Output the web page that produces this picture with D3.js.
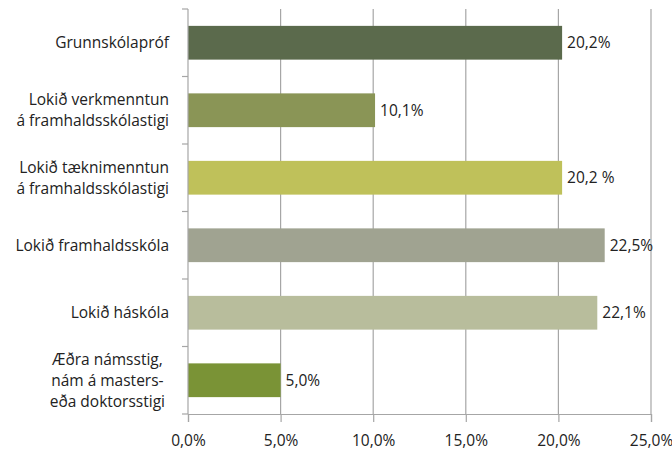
<!DOCTYPE html>
<html>
<head>
<meta charset="utf-8">
<script src="https://cdn.jsdelivr.net/npm/d3@7"></script>
<style>
  body { margin: 0; background: #fff; }
  text { font-family: "Open Sans", sans-serif; fill: #222; }
</style>
</head>
<body>
<svg id="chart" width="672" height="451"></svg>
<script>
// education levels, top to bottom
var categories = [
  ["Grunnskólapróf"],
  ["Lokið verkmenntun", "á framhaldsskólastigi"],
  ["Lokið tæknimenntun", "á framhaldsskólastigi"],
  ["Lokið framhaldsskóla"],
  ["Lokið háskóla"],
  ["Æðra námsstig,", "nám á masters-", "eða doktorsstigi"]
];
var values = [20.2, 10.1, 20.2, 22.5, 22.1, 5.0];
var valueLabels = ["20,2%", "10,1%", "20,2 %", "22,5%", "22,1%", "5,0%"];
var barColors = ["#5b6a4c", "#8a9556", "#bfc15a", "#a0a391", "#b8bd9c", "#7a9336"];
var tickValues = [0, 5, 10, 15, 20, 25];

var svg = d3.select("#chart");
var margin = {top: 9, right: 21, bottom: 37, left: 188};
var width = 672 - margin.left - margin.right;
var height = 451 - margin.top - margin.bottom;
var fontSize = "15.5px";
var lineH = 21;

var g = svg.append("g").attr("transform", "translate(" + margin.left + "," + margin.top + ")");

var x = d3.scaleLinear().domain([0, 25]).range([0, width]);
var y = d3.scaleBand()
  .domain(d3.range(categories.length))
  .range([0, height])
  .paddingInner(0.5)
  .paddingOuter(0.25);

// vertical gridlines
g.selectAll(".grid")
  .data(tickValues.slice(1))
  .enter().append("line")
  .attr("x1", d => x(d)).attr("x2", d => x(d))
  .attr("y1", 0).attr("y2", height)
  .attr("stroke", "#a6a6a6").attr("stroke-width", 1.2);

// bars
g.selectAll(".bar")
  .data(values)
  .enter().append("rect")
  .attr("x", 0)
  .attr("y", (d, i) => y(i))
  .attr("width", d => x(d))
  .attr("height", y.bandwidth())
  .attr("fill", (d, i) => barColors[i]);

// value labels
g.selectAll(".val")
  .data(values)
  .enter().append("text")
  .attr("x", d => x(d) + 5)
  .attr("y", (d, i) => y(i) + y.bandwidth() / 2)
  .attr("dy", "0.35em")
  .style("font-size", fontSize)
  .text((d, i) => valueLabels[i]);

// x axis
var xAxis = g.append("g")
  .attr("transform", "translate(0," + height + ")")
  .call(d3.axisBottom(x).tickValues(tickValues).tickSize(8).tickPadding(13)
    .tickFormat(d => d3.format(".1f")(d).replace(".", ",") + "%"));
xAxis.select(".domain").attr("stroke", "#a6a6a6").attr("stroke-width", 1.2);
xAxis.selectAll(".tick line").attr("stroke", "#a6a6a6").attr("stroke-width", 1.2);
xAxis.selectAll(".tick text").style("font-size", fontSize).style("font-family", "Open Sans").attr("fill", "#222");

// y axis line and ticks at band boundaries
var step = y.step();
var bounds = d3.range(categories.length + 1).map(i => i === 0 ? 0 : (i === categories.length ? height : y(i) - step * y.paddingInner() / 2));
g.append("line")
  .attr("x1", 0).attr("x2", 0).attr("y1", 0).attr("y2", height)
  .attr("stroke", "#a6a6a6").attr("stroke-width", 1.2);
g.selectAll(".ytick")
  .data(bounds)
  .enter().append("line")
  .attr("x1", -6).attr("x2", 0)
  .attr("y1", d => d).attr("y2", d => d)
  .attr("stroke", "#a6a6a6").attr("stroke-width", 1.2);

// category labels
var labels = g.selectAll(".cat")
  .data(categories)
  .enter().append("text")
  .style("font-size", fontSize)
  .attr("y", (d, i) => y(i) + y.bandwidth() / 2 - (d.length - 1) * lineH / 2);
labels.each(function(lines) {
  var t = d3.select(this);
  lines.forEach(function(l, k) {
    t.append("tspan").attr("x", -19).attr("dy", k === 0 ? "0.35em" : lineH).text(l);
  });
});
labels.attr("text-anchor", "end");
// the three-line label is centred as a block
labels.filter(d => d.length > 2).each(function() {
  var t = d3.select(this);
  var w = d3.max(t.selectAll("tspan").nodes(), n => n.getComputedTextLength());
  t.attr("text-anchor", "middle").selectAll("tspan").attr("x", -23 - w / 2);
});
</script>
</body>
</html>
